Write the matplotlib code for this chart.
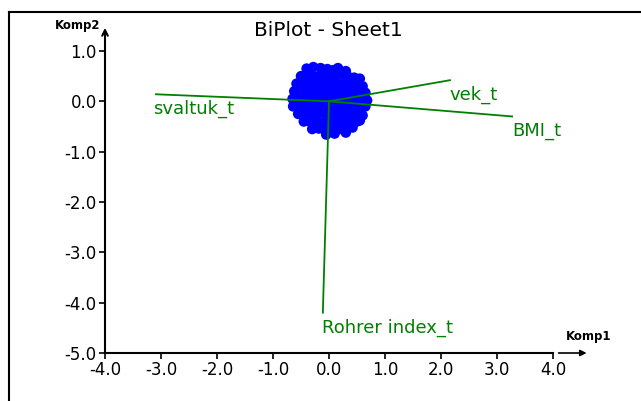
import matplotlib
matplotlib.use("Agg")
import matplotlib.pyplot as plt
from matplotlib.lines import Line2D

# loading vectors (komp1, komp2)
var_names = ["svaltuk_t", "vek_t", "BMI_t", "Rohrer index_t"]
var_x = [-3.09, 2.16, 3.27, -0.11]
var_y = [0.14, 0.42, -0.30, -4.20]
label_x = [-3.14, 2.16, 3.27, -0.12]
label_y = [-0.14, 0.12, -0.58, -4.50]

# observation scores, read row by row off the blob
score_x = [
    -0.40, -0.28, -0.15, -0.03, 0.08, 0.16, 0.30,
    -0.50, -0.38, -0.26, -0.14, -0.02, 0.10, 0.22, 0.34, 0.45, 0.55,
    -0.58, -0.46, -0.34, -0.22, -0.10, 0.02, 0.14, 0.26, 0.38, 0.50, 0.60,
    -0.62, -0.50, -0.38, -0.26, -0.14, -0.02, 0.10, 0.22, 0.34, 0.46, 0.56, 0.65,
    -0.65, -0.53, -0.41, -0.29, -0.17, -0.05, 0.07, 0.19, 0.31, 0.43, 0.55, 0.68,
    -0.64, -0.52, -0.40, -0.28, -0.16, -0.04, 0.08, 0.20, 0.32, 0.44, 0.56, 0.65,
    -0.55, -0.43, -0.31, -0.19, -0.07, 0.05, 0.17, 0.29, 0.41, 0.52, 0.60,
    -0.45, -0.33, -0.21, -0.09, 0.03, 0.15, 0.27, 0.39, 0.50, 0.55,
    -0.30, -0.18, -0.06, 0.06, 0.18, 0.30, 0.42,
    -0.05, 0.10, 0.30,
]
score_y = [
    0.65, 0.68, 0.66, 0.64, 0.62, 0.66, 0.60,
    0.50, 0.52, 0.49, 0.51, 0.48, 0.50, 0.53, 0.49, 0.47, 0.45,
    0.35, 0.36, 0.34, 0.37, 0.35, 0.33, 0.36, 0.34, 0.35, 0.32, 0.30,
    0.20, 0.21, 0.19, 0.22, 0.20, 0.18, 0.21, 0.19, 0.20, 0.22, 0.18, 0.17,
    0.05, 0.06, 0.04, 0.07, 0.05, 0.03, 0.06, 0.04, 0.05, 0.07, 0.03, 0.02,
    -0.10, -0.09, -0.11, -0.08, -0.10, -0.12, -0.09, -0.11, -0.10, -0.08, -0.12, -0.10,
    -0.25, -0.24, -0.26, -0.23, -0.25, -0.27, -0.24, -0.26, -0.25, -0.23, -0.28,
    -0.40, -0.41, -0.39, -0.42, -0.40, -0.38, -0.41, -0.39, -0.40, -0.38,
    -0.55, -0.54, -0.56, -0.53, -0.55, -0.57, -0.52,
    -0.66, -0.64, -0.62,
]

green = "#008000"
font = "DejaVu Sans"

fig = plt.figure(figsize=(6.41, 4.01), dpi=100)
ax = fig.add_axes([105 / 641, 48 / 401, 448 / 641, 302 / 401])
ax.set_xlim(-4, 4)
ax.set_ylim(-5, 1)
for s in ax.spines.values():
    s.set_visible(False)

ax.scatter(score_x, score_y, s=58, color="#0000ff", edgecolors="none", zorder=2)

for name, vx, vy, lx, ly in zip(var_names, var_x, var_y, label_x, label_y):
    ax.plot([0, vx], [0, vy], color=green, lw=1.3, zorder=3)
    ax.text(lx, ly, name, color=green, fontsize=13, ha="left", va="center",
            family=font)

# axes drawn by hand with arrows
ax.annotate("", xy=(-4, 1.46), xytext=(-4, -5.0), annotation_clip=False,
            arrowprops=dict(arrowstyle="->", lw=1.5, color="black",
                            shrinkA=0, shrinkB=0, mutation_scale=10))
ax.plot([-4, 4], [-5, -5], color="black", lw=1.5, clip_on=False)
ax.annotate("", xy=(4.6, -5), xytext=(4.1, -5), annotation_clip=False,
            arrowprops=dict(arrowstyle="-|>", lw=1.2, color="black",
                            shrinkA=0, shrinkB=0, mutation_scale=9))

ax.set_xticks([-4, -3, -2, -1, 0, 1, 2, 3, 4])
ax.set_yticks([1, 0, -1, -2, -3, -4, -5])
ax.set_xticklabels([f"{v:.1f}" for v in ax.get_xticks()])
ax.set_yticklabels([f"{v:.1f}" for v in ax.get_yticks()])
ax.tick_params(direction="out", length=4, width=1.2, labelsize=12, pad=2)
for lab in ax.get_xticklabels() + ax.get_yticklabels():
    lab.set_family(font)

ax.text(4.63, -4.68, "Komp1", fontsize=8.5, ha="center", va="center",
        family=font, weight="bold")
ax.text(-4.49, 1.51, "Komp2", fontsize=8.5, ha="center", va="center",
        family=font, weight="bold")
fig.text(328 / 641, 1 - 30 / 401, "BiPlot - Sheet1", fontsize=14.5,
         ha="center", va="center", family=font)

# outer frame (cut off at right and bottom)
fig.add_artist(Line2D([9 / 641, 1], [1 - 12 / 401, 1 - 12 / 401], color="black", lw=1.5))
fig.add_artist(Line2D([9 / 641, 9 / 641], [0, 1 - 12 / 401], color="black", lw=1.5))

fig.savefig("out.png", dpi=100)
